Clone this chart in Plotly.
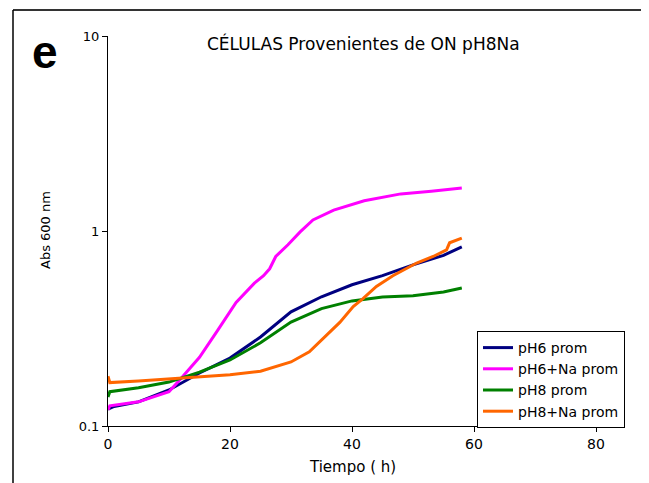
import plotly.graph_objects as go

# ---- data ----
t_ph6 = [0, 1, 5, 10, 15, 20, 25, 30, 35, 40, 45, 50, 55, 58]
abs_ph6 = [0.122, 0.126, 0.133, 0.153, 0.187, 0.223, 0.286, 0.385, 0.46, 0.53, 0.59, 0.67, 0.75, 0.83]

t_ph6na = [0, 0.3, 5, 10, 12, 15, 18, 21, 24, 25.5, 26.5, 27.5, 29.5, 31.5, 33.6, 37, 42, 48, 53, 58]
abs_ph6na = [0.121, 0.127, 0.133, 0.150, 0.176, 0.225, 0.31, 0.43, 0.54, 0.59, 0.64, 0.74, 0.85, 0.99,
             1.14, 1.28, 1.43, 1.55, 1.60, 1.66]

t_ph8 = [0, 0.3, 5, 10, 15, 20, 25, 30, 35, 40, 45, 50, 55, 58]
abs_ph8 = [0.141, 0.150, 0.157, 0.168, 0.189, 0.218, 0.267, 0.341, 0.40, 0.438, 0.459, 0.465, 0.487, 0.51]

t_ph8na = [0, 0.3, 5, 10, 15, 20, 25, 30, 33, 35, 38, 40.2, 41.8, 44, 46.7, 50.6, 53.3, 55.5, 56, 58]
abs_ph8na = [0.180, 0.167, 0.170, 0.174, 0.178, 0.183, 0.191, 0.213, 0.24, 0.276, 0.34, 0.41, 0.45,
             0.52, 0.59, 0.685, 0.74, 0.80, 0.87, 0.92]

series_names = ["pH6 prom", "pH6+Na prom", "pH8 prom", "pH8+Na prom"]
series_colors = ["#000080", "#FF00FF", "#008000", "#FF6600"]

x_ticks = [0, 20, 40, 60, 80]
y_ticks = [0.1, 1, 10]
y_ticktext = ["0.1", "1", "10"]

title_text = "CÉLULAS Provenientes de ON pH8Na"
x_title = "Tiempo ( h)"
y_title = "Abs 600 nm"
panel_label = "e"

FONT = "DejaVu Sans, Liberation Sans, Arial, sans-serif"

fig = go.Figure()
for t, v, name, col in zip([t_ph6, t_ph6na, t_ph8, t_ph8na],
                           [abs_ph6, abs_ph6na, abs_ph8, abs_ph8na],
                           series_names, series_colors):
    fig.add_trace(go.Scatter(x=t, y=v, mode="lines", name=name,
                             line=dict(color=col, width=3)))

# page body has an 8px margin: work in window pixels, shift into figure pixels
OFF = 8
W, H = 649 - OFF, 483 - OFF
L, R, T, B = 108 - OFF, 596 - OFF, 36 - OFF, 426 - OFF
def px(x):
    return (x - OFF - L) / (R - L)
def py(y):
    return (B - (y - OFF)) / (B - T)

fig.update_layout(
    width=W, height=H,
    margin=dict(l=L, r=W - R, t=T, b=H - B),
    paper_bgcolor="white", plot_bgcolor="white",
    font=dict(family=FONT, size=13, color="black"),
    showlegend=True,
    legend=dict(x=px(477), y=py(331), xanchor="left", yanchor="top",
                bordercolor="black", borderwidth=1, bgcolor="white",
                font=dict(family=FONT, size=14), itemwidth=30,
                tracegroupgap=0),
    xaxis=dict(range=[0, 80], tickvals=x_ticks, showgrid=False, zeroline=False,
               showline=True, linecolor="black", linewidth=1,
               ticks="outside", ticklen=5, tickcolor="black",
               tickfont=dict(family=FONT, size=14)),
    yaxis=dict(type="log", range=[-1, 1], tickvals=y_ticks, ticktext=y_ticktext,
               showgrid=False, zeroline=False, showline=True, linecolor="black",
               linewidth=1, ticks="outside", ticklen=5, tickcolor="black",
               tickfont=dict(family=FONT, size=13)),
    annotations=[
        dict(text=title_text, xref="paper", yref="paper", x=px(363), y=py(43),
             showarrow=False, xanchor="center", yanchor="middle",
             font=dict(family=FONT, size=17)),
        dict(text=x_title, xref="paper", yref="paper", x=px(352), y=py(467),
             showarrow=False, xanchor="center", yanchor="middle",
             font=dict(family=FONT, size=15)),
        dict(text=y_title, xref="paper", yref="paper", x=px(45), y=py(230),
             showarrow=False, xanchor="center", yanchor="middle", textangle=-90,
             font=dict(family=FONT, size=13)),
        dict(text="<b>" + panel_label + "</b>", xref="paper", yref="paper",
             x=px(45), y=py(52), showarrow=False, xanchor="center", yanchor="middle",
             font=dict(family="Liberation Sans, Arial, sans-serif", size=46)),
    ],
    shapes=[
        dict(type="line", xref="paper", yref="paper", x0=px(13), x1=px(649),
             y0=py(10), y1=py(10), line=dict(color="#333333", width=2)),
        dict(type="line", xref="paper", yref="paper", x0=px(13), x1=px(13),
             y0=py(10), y1=py(483), line=dict(color="black", width=1.5)),
    ],
)

fig.write_html("out.html")
